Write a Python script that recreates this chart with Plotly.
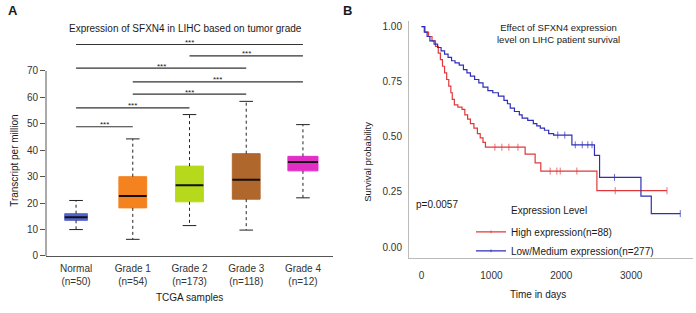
import plotly.graph_objects as go

# ---------------- Panel A data (box plot summary) ----------------
groups = ["Normal", "Grade 1", "Grade 2", "Grade 3", "Grade 4"]
group_n = ["(n=50)", "(n=54)", "(n=173)", "(n=118)", "(n=12)"]
box_low = [10.0, 6.3, 11.5, 9.8, 22.0]
box_q1 = [13.5, 18.2, 20.5, 21.5, 32.2]
box_median = [14.7, 22.7, 26.8, 28.8, 35.6]
box_q3 = [16.0, 30.0, 34.0, 38.7, 37.7]
box_high = [21.0, 44.3, 53.5, 58.5, 49.7]
box_colors = ["#5464cc", "#f4821e", "#b6d91c", "#b0672b", "#e22dc6"]
box_widths = [0.40, 0.49, 0.49, 0.49, 0.53]

# significance brackets: (from group, to group, height)
sig_from = [0, 2, 0, 1, 1, 0, 0]
sig_to = [4, 4, 3, 4, 3, 2, 1]
sig_height = [80.0, 75.7, 71.1, 65.9, 61.2, 56.0, 48.9]
sig_label = "***"

# ---------------- Panel B data (Kaplan-Meier) ----------------
high_t = [0, 50, 100, 150, 200, 240, 270, 300, 330, 360, 390, 420, 440, 470, 520,
          580, 620, 660, 700, 750, 800, 840, 880, 915, 1483, 1626, 1707, 2510, 3513]
high_s = [1.0, 0.975, 0.955, 0.935, 0.91, 0.88, 0.85, 0.82, 0.79, 0.76, 0.73, 0.70,
          0.67, 0.645, 0.635, 0.625, 0.60, 0.58, 0.56, 0.54, 0.515, 0.495, 0.475,
          0.453, 0.422, 0.382, 0.345, 0.256, 0.256]
high_censor = [1050, 1150, 1250, 1380, 1841, 1937, 1985, 2223, 2772, 3513]

low_t = [0, 40, 80, 120, 180, 230, 280, 330, 380, 430, 480, 540, 600, 650, 700, 760,
         820, 880, 950, 1020, 1100, 1180, 1230, 1270, 1330, 1400, 1440, 1520, 1600,
         1650, 1700, 1760, 1820, 1890, 2152, 2475, 2548, 3140, 3288, 3703]
low_s = [1.0, 0.975, 0.955, 0.935, 0.92, 0.905, 0.89, 0.875, 0.86, 0.845, 0.835,
         0.825, 0.805, 0.79, 0.775, 0.76, 0.745, 0.725, 0.71, 0.70, 0.685, 0.665,
         0.65, 0.63, 0.615, 0.60, 0.585, 0.575, 0.56, 0.55, 0.54, 0.53, 0.515,
         0.508, 0.464, 0.416, 0.316, 0.231, 0.152, 0.152]
low_censor = [1950, 2050, 2200, 2300, 2380, 2440, 2762, 3703]

high_name = "High expression(n=88)"
low_name = "Low/Medium expression(n=277)"
p_text = "p=0.0057"

RED = "#e0383a"
BLUE = "#2e2eb8"
TXT = "#1a1a1a"
FONT = "Liberation Sans, Arial, sans-serif"

W, H = 696, 313


def px(x):
    return x / W


def py(y):
    return 1 - y / H


fig = go.Figure()

# ---- Panel A boxes ----
for i, g in enumerate(groups):
    fig.add_trace(go.Box(
        x=[i], q1=[box_q1[i]], median=[box_median[i]], q3=[box_q3[i]],
        lowerfence=[box_q1[i]], upperfence=[box_q3[i]],
        width=box_widths[i], fillcolor=box_colors[i],
        line=dict(color=box_colors[i], width=1), whiskerwidth=0,
        hoverinfo="skip", showlegend=False, xaxis="x", yaxis="y",
    ))
    # whiskers (dotted)
    fig.add_trace(go.Scatter(
        x=[i, i, None, i, i],
        y=[box_q3[i], box_high[i], None, box_q1[i], box_low[i]],
        mode="lines", line=dict(color="#222", width=1, dash="dot"),
        showlegend=False, hoverinfo="skip", xaxis="x", yaxis="y",
    ))
    cap = 0.12
    fig.add_trace(go.Scatter(
        x=[i - cap, i + cap, None, i - cap, i + cap],
        y=[box_high[i], box_high[i], None, box_low[i], box_low[i]],
        mode="lines", line=dict(color="#222", width=1),
        showlegend=False, hoverinfo="skip", xaxis="x", yaxis="y",
    ))
    hw = box_widths[i] / 2
    fig.add_trace(go.Scatter(
        x=[i - hw, i + hw], y=[box_median[i], box_median[i]],
        mode="lines", line=dict(color="#111", width=2),
        showlegend=False, hoverinfo="skip", xaxis="x", yaxis="y",
    ))

# significance brackets
for a, b, h in zip(sig_from, sig_to, sig_height):
    fig.add_trace(go.Scatter(
        x=[a, b], y=[h, h], mode="lines", line=dict(color="#333", width=1.2),
        showlegend=False, hoverinfo="skip", xaxis="x", yaxis="y",
    ))
    fig.add_annotation(x=(a + b) / 2, y=h, xref="x", yref="y", text=sig_label,
                       showarrow=False, yanchor="middle", yshift=2,
                       font=dict(size=8, color=TXT, family=FONT))

# y axis line from 0 to 70 only
fig.add_shape(type="line", xref="x domain", yref="y", x0=0, x1=0, y0=0, y1=70,
              line=dict(color="#555", width=1))


# ---- Panel B KM curves ----
def km_points(t, s, cens):
    pts = [(tt, ss, 0) for tt, ss in zip(t, s)]
    for c in cens:
        cur = s[0]
        for tt, ss in zip(t, s):
            if tt <= c:
                cur = ss
        pts.append((c, cur, 5))
    pts.sort(key=lambda p: (p[0], -p[1]))
    return [p[0] for p in pts], [p[1] for p in pts], [p[2] for p in pts]


for t, s, cens, name, col in [(high_t, high_s, high_censor, high_name, RED),
                              (low_t, low_s, low_censor, low_name, BLUE)]:
    xs, ys, sz = km_points(t, s, cens)
    fig.add_trace(go.Scatter(
        x=xs, y=ys, mode="lines+markers", name=name,
        line=dict(color=col, width=1.2, shape="hv"),
        marker=dict(symbol="line-ns-open", size=sz, color=col,
                    line=dict(color=col, width=1)),
        xaxis="x2", yaxis="y2",
    ))

axis_font = dict(size=10, color="#333", family=FONT)

fig.update_layout(
    width=W, height=H,
    margin=dict(l=0, r=0, t=0, b=0),
    paper_bgcolor="white", plot_bgcolor="white",
    font=dict(family=FONT, color=TXT, size=10),
    xaxis=dict(domain=[px(46), px(333)], range=[-0.53, 4.53],
               tickvals=list(range(len(groups))),
               ticktext=[f"{g}<br>{n}" for g, n in zip(groups, group_n)],
               showline=True, linecolor="#555", linewidth=1,
               ticks="outside", ticklen=3, tickcolor="rgba(0,0,0,0)",
               showgrid=False, zeroline=False, tickfont=axis_font),
    yaxis=dict(domain=[py(261), py(40)], range=[0, 82],
               tickvals=[0, 10, 20, 30, 40, 50, 60, 70],
               ticks="outside", ticklen=5, tickcolor="#555",
               showline=False, showgrid=False, zeroline=False, tickfont=axis_font),
    xaxis2=dict(domain=[px(409), px(693)], range=[-179, 3885],
                tickvals=[0, 1000, 2000, 3000],
                showline=True, linecolor="#bbbbbb", linewidth=1,
                ticks="outside", ticklen=8, tickcolor="rgba(0,0,0,0)",
                showgrid=False, zeroline=False, tickfont=axis_font, anchor="y2"),
    yaxis2=dict(domain=[py(263), py(21)], range=[-0.049, 1.027],
                tickvals=[0, 0.25, 0.5, 0.75, 1.0],
                ticktext=["0.00", "0.25", "0.50", "0.75", "1.00"],
                showline=True, linecolor="#bbbbbb", linewidth=1,
                ticks="outside", ticklen=4, tickcolor="rgba(0,0,0,0)",
                showgrid=False, zeroline=False, tickfont=axis_font, anchor="x2"),
    legend=dict(x=px(471), y=py(246), xanchor="left", yanchor="middle",
                bgcolor="rgba(0,0,0,0)", itemwidth=30,
                font=dict(size=10, color=TXT, family=FONT)),
    showlegend=True,
)

ann = [
    dict(text="<b>A</b>", x=px(13), y=py(11), size=13),
    dict(text="<b>B</b>", x=px(347), y=py(11), size=13),
    dict(text="Expression of SFXN4 in LIHC based on tumor grade", x=px(185), y=py(29), size=10),
    dict(text="TCGA samples", x=px(189), y=py(303), size=10),
    dict(text="Transcript per million", x=px(15), y=py(164), size=10, angle=-90),
    dict(text="Effect of SFXN4 expression<br>level on LIHC patient survival", x=px(558), y=py(34), size=9.5),
    dict(text="Time in days", x=px(538), y=py(300), size=10),
    dict(text="Survival probability", x=px(368), y=py(165), size=9.5, angle=-90),
    dict(text=p_text, x=px(414), y=py(208), size=10, xanchor="left"),
    dict(text="Expression Level", x=px(509), y=py(215), size=10, xanchor="left"),
]
for a in ann:
    fig.add_annotation(text=a["text"], x=a["x"], y=a["y"], xref="paper", yref="paper",
                       showarrow=False, xanchor=a.get("xanchor", "center"), yanchor="middle",
                       textangle=a.get("angle", 0),
                       font=dict(size=a["size"], color=TXT, family=FONT))

fig.write_html("out.html",
               config={"displayModeBar": False},
               post_script="document.body.style.margin='0px';"
                           "document.body.style.overflow='hidden';")
